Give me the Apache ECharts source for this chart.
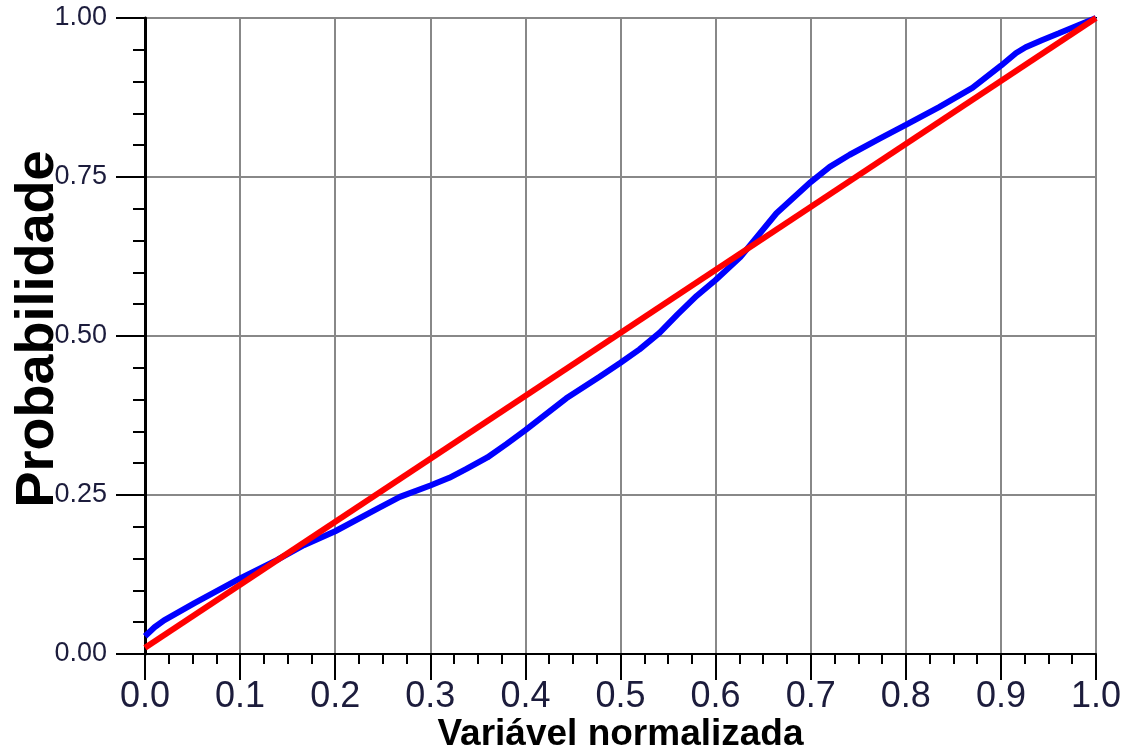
<!DOCTYPE html>
<html>
<head>
<meta charset="utf-8">
<script src="https://cdn.jsdelivr.net/npm/echarts@6/dist/echarts.min.js"></script>
<style>
  html, body { margin: 0; padding: 0; background: #fff; }
  #chart { width: 1128px; height: 752px; }
</style>
</head>
<body>
<div id="chart"></div>
<script>
// Curva empírica (azul)
const empiricoX = [0, 0.01, 0.02, 0.052, 0.1, 0.139, 0.167, 0.2, 0.245, 0.268, 0.3, 0.32, 0.338, 0.36, 0.38, 0.4, 0.443, 0.478, 0.5,
  0.52, 0.541, 0.56, 0.58, 0.6, 0.626, 0.664, 0.7, 0.72, 0.741, 0.772, 0.8, 0.835, 0.87, 0.9, 0.916, 0.926, 0.943, 0.961, 0.982, 1.0];
const empiricoY = [0.028, 0.042, 0.053, 0.080, 0.119, 0.148, 0.171, 0.193, 0.229, 0.247, 0.265, 0.277, 0.291, 0.309, 0.330, 0.352, 0.402, 0.436, 0.458,
  0.479, 0.505, 0.534, 0.563, 0.588, 0.624, 0.693, 0.742, 0.766, 0.785, 0.81, 0.832, 0.86, 0.89, 0.925, 0.945, 0.954, 0.965, 0.976, 0.989, 1.0];

// Curva teórica (vermelha)
const teoricoX = [0, 1];
const teoricoY = [0.01, 1];

const chart = echarts.init(document.getElementById('chart'));

const labelColor = '#1c1c3c';
const fontFamily = '"Liberation Sans", Arial, sans-serif';

const option = {
  animation: false,
  grid: {
    left: 145,
    right: 32,
    top: 18,
    bottom: 98,
    outerBoundsMode: 'none',
    show: true,
    borderColor: '#000',
    borderWidth: 2
  },
  xAxis: {
    type: 'value',
    min: 0,
    max: 1,
    interval: 0.1,
    name: 'Variável normalizada',
    nameLocation: 'middle',
    nameGap: 62,
    nameMoveOverlap: false,
    nameTextStyle: { fontFamily, fontSize: 37, fontWeight: 'bold', color: '#000' },
    axisLine: { lineStyle: { color: '#000', width: 2 } },
    axisTick: { length: 26, lineStyle: { color: '#000', width: 2 } },
    minorTick: { show: true, splitNumber: 4, length: 10, lineStyle: { color: '#000', width: 2 } },
    splitLine: { show: true, lineStyle: { color: '#888', width: 2 } },
    axisLabel: {
      margin: 25,
      fontFamily,
      fontSize: 36,
      color: labelColor,
      formatter: v => v.toFixed(1)
    }
  },
  yAxis: {
    type: 'value',
    min: 0,
    max: 1,
    interval: 0.25,
    name: 'Probabilidade',
    nameLocation: 'middle',
    nameGap: 80,
    nameMoveOverlap: false,
    nameTextStyle: { fontFamily, fontSize: 54, fontWeight: 'bold', color: '#000', padding: [0, 0, 0, 14] },
    axisLine: { show: true, lineStyle: { color: '#000', width: 3 } },
    axisTick: { show: true, length: 29, lineStyle: { color: '#000', width: 2 } },
    minorTick: { show: true, splitNumber: 5, length: 12, lineStyle: { color: '#000', width: 2 } },
    splitLine: { show: true, lineStyle: { color: '#888', width: 2 } },
    axisLabel: {
      margin: 38,
      fontFamily,
      fontSize: 27,
      color: labelColor,
      formatter: v => v.toFixed(2)
    }
  },
  series: [
    {
      name: 'Empírica',
      type: 'line',
      data: empiricoX.map((x, i) => [x, empiricoY[i]]),
      showSymbol: false,
      lineStyle: { color: '#0000ff', width: 6 },
      z: 3
    },
    {
      name: 'Teórica',
      type: 'line',
      data: teoricoX.map((x, i) => [x, teoricoY[i]]),
      showSymbol: false,
      lineStyle: { color: '#ff0000', width: 6 },
      z: 4
    }
  ]
};

chart.setOption(option);
</script>
</body>
</html>
